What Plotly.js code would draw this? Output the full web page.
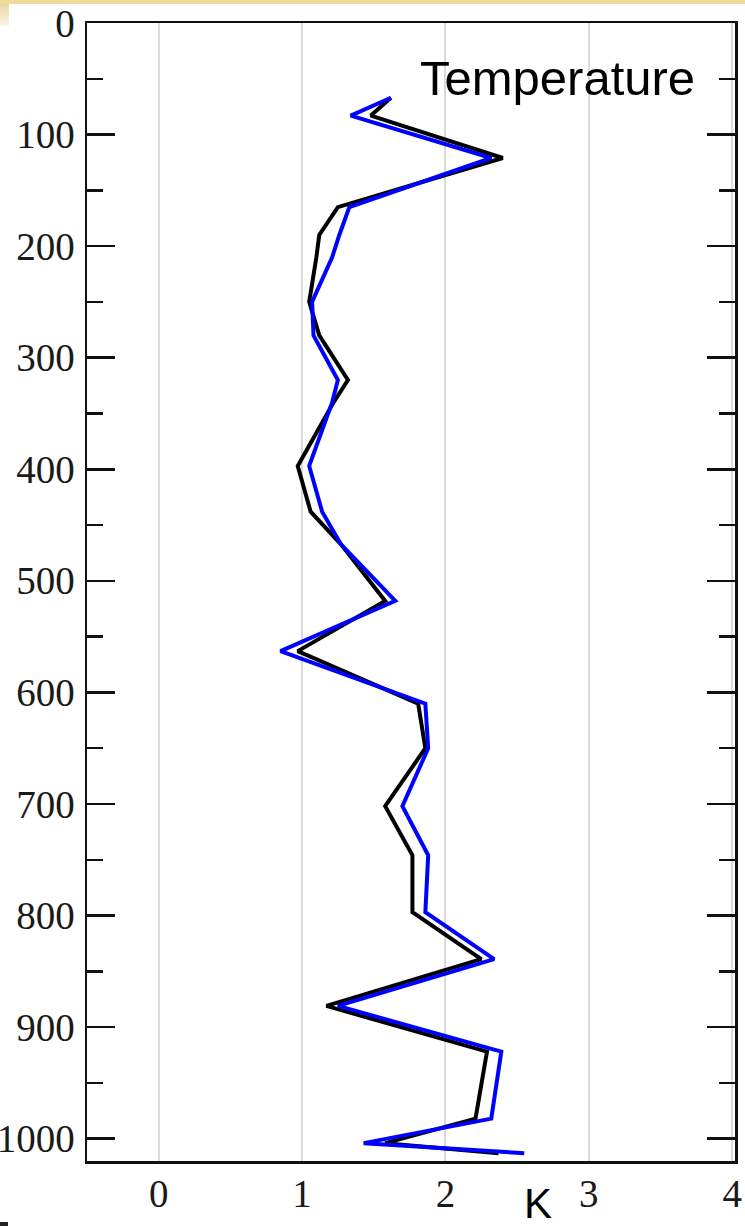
<!DOCTYPE html>
<html>
<head>
<meta charset="utf-8">
<script src="https://cdn.plot.ly/plotly-3.0.1.min.js"></script>
<style>
  html, body { margin: 0; padding: 0; background: #ffffff; }
  #wrap { position: relative; width: 745px; height: 1226px; overflow: hidden; }
  #chart { position: absolute; left: 0; top: 0; width: 745px; height: 1226px; }
  #band { position: absolute; left: 0; top: 0; width: 745px; height: 4px; background: #eedb9d; z-index: 2; }
  #corner { position: absolute; left: 0; top: 4px; width: 9px; height: 22px;
            background: linear-gradient(to bottom, #ead7a0, #fbf6e6); z-index: 2; }
  #dash { position: absolute; left: 0; top: 1222px; width: 8px; height: 4px; background: #222; z-index: 2; }
</style>
</head>
<body>
<div id="wrap">
  <div id="chart"></div>
  <div id="band"></div>
  <div id="corner"></div>
  <div id="dash"></div>
</div>
<script>
// Vertical levels of the profile (axis points down)
const levels = [67, 83, 121, 165, 190, 210, 250, 280, 320, 340, 397, 438, 467, 518,
                563, 610, 650, 702, 746, 797, 839, 881, 922, 982, 1004, 1013];

// Temperature values (K) for the two profiles
const tempBlack = [1.62, 1.48, 2.40, 1.25, 1.12, 1.10, 1.05, 1.12, 1.32, 1.22, 0.97, 1.06, 1.27, 1.58,
                   0.97, 1.81, 1.86, 1.58, 1.77, 1.77, 2.25, 1.17, 2.29, 2.21, 1.58, 2.37];
const tempBlue  = [1.62, 1.34, 2.32, 1.33, 1.26, 1.21, 1.07, 1.08, 1.25, 1.21, 1.05, 1.14, 1.27, 1.65,
                   0.85, 1.86, 1.88, 1.70, 1.88, 1.86, 2.34, 1.25, 2.39, 2.32, 1.43, 2.55];

const xTicks = [0, 1, 2, 3, 4];
const yTicks = [0, 100, 200, 300, 400, 500, 600, 700, 800, 900, 1000];

const traces = [
  { x: tempBlack, y: levels, type: 'scatter', mode: 'lines',
    line: { color: '#000000', width: 4 }, hoverinfo: 'skip', showlegend: false },
  { x: tempBlue, y: levels, type: 'scatter', mode: 'lines',
    line: { color: '#0000ff', width: 4 }, hoverinfo: 'skip', showlegend: false }
];

const serif = { family: '"Liberation Serif", "DejaVu Serif", serif', size: 39, color: '#1a1a1a' };

const layout = {
  width: 745, height: 1226,
  margin: { l: 87, r: 10, t: 23, b: 65 },
  paper_bgcolor: '#ffffff', plot_bgcolor: '#ffffff',
  showlegend: false,
  xaxis: {
    range: [-0.5, 4.02], tickvals: xTicks, ticktext: xTicks.map(String),
    showgrid: true, gridcolor: '#dadada', gridwidth: 2,
    zeroline: false, ticks: '', showline: true, linecolor: '#111', linewidth: 2.5, mirror: true,
    tickfont: serif, ticklabelstandoff: -3
  },
  yaxis: {
    range: [1020, 0], tickvals: yTicks, ticktext: yTicks.map(String),
    showgrid: false, zeroline: false,
    ticks: 'inside', ticklen: 28, tickwidth: 2.5, tickcolor: '#111',
    minor: { dtick: 50, tick0: 0, ticks: 'inside', ticklen: 16, tickwidth: 2.5, tickcolor: '#111', showgrid: false },
    showline: true, linecolor: '#111', linewidth: 2.5, mirror: 'ticks',
    tickfont: serif, ticklabelstandoff: 2
  },
  annotations: [
    { text: 'Temperature', xref: 'x', yref: 'y', x: 1.81, y: 49, xanchor: 'left', yanchor: 'middle',
      showarrow: false, font: { family: '"Liberation Sans", Arial, sans-serif', size: 49, color: '#000' } },
    { text: 'K', xref: 'x', yref: 'paper', x: 2.645, y: -0.037, xanchor: 'center', yanchor: 'middle',
      showarrow: false, font: { family: '"Liberation Sans", Arial, sans-serif', size: 42, color: '#000' } }
  ]
};

Plotly.newPlot('chart', traces, layout, { staticPlot: true, displayModeBar: false });
</script>
</body>
</html>
